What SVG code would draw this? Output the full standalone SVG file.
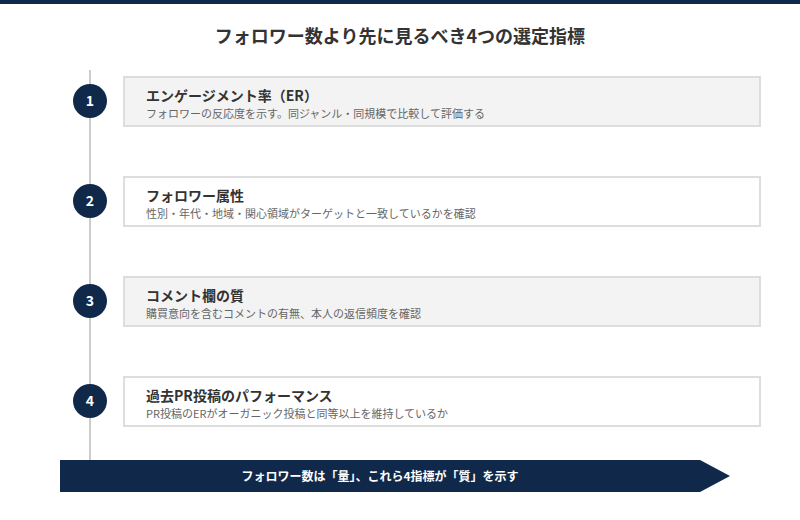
<svg xmlns="http://www.w3.org/2000/svg" width="800" height="520" viewBox="0 0 800 520">
<style>
text{font-family:"Noto Sans CJK JP","Noto Sans",sans-serif}
.ttl{font-size:18px;font-weight:700;fill:#333;text-anchor:middle}
.num{font-size:14px;font-weight:700;fill:#fff;text-anchor:middle}
.h{font-size:14px;font-weight:700;fill:#333}
.s{font-size:11px;fill:#666}
.circ{fill:#10294a}
.boxA{fill:#f3f3f3;stroke:#dddddd;stroke-width:2}
.boxB{fill:#ffffff;stroke:#dddddd;stroke-width:2}
.foot{font-size:12px;font-weight:700;fill:#fff;text-anchor:middle}
</style>
<rect x="0" y="0" width="800" height="520" fill="#fff"/>
<rect x="0" y="0" width="800" height="4" fill="#10294a"/>
<text class="ttl" x="400" y="43">フォロワー数より先に見るべき4つの選定指標</text>
<g id="connectors">
<line x1="90" y1="70" x2="90" y2="460" stroke="#cccccc" stroke-width="2"/>
</g>
<g id="n1">
<rect class="boxA" x="124" y="77" width="636" height="49"/>
<circle class="circ" cx="90" cy="101" r="17"/>
<text class="num" x="90" y="106">1</text>
<text class="h" x="146" y="101">エンゲージメント率（ER）</text>
<text class="s" x="146" y="118">フォロワーの反応度を示す。同ジャンル・同規模で比較して評価する</text>
</g>
<g id="n2">
<rect class="boxB" x="124" y="177" width="636" height="49"/>
<circle class="circ" cx="90" cy="201" r="17"/>
<text class="num" x="90" y="206">2</text>
<text class="h" x="146" y="201">フォロワー属性</text>
<text class="s" x="146" y="218">性別・年代・地域・関心領域がターゲットと一致しているかを確認</text>
</g>
<g id="n3">
<rect class="boxA" x="124" y="277" width="636" height="49"/>
<circle class="circ" cx="90" cy="301" r="17"/>
<text class="num" x="90" y="306">3</text>
<text class="h" x="146" y="301">コメント欄の質</text>
<text class="s" x="146" y="318">購買意向を含むコメントの有無、本人の返信頻度を確認</text>
</g>
<g id="n4">
<rect class="boxB" x="124" y="377" width="636" height="49"/>
<circle class="circ" cx="90" cy="401" r="17"/>
<text class="num" x="90" y="406">4</text>
<text class="h" x="146" y="401">過去PR投稿のパフォーマンス</text>
<text class="s" x="146" y="418">PR投稿のERがオーガニック投稿と同等以上を維持しているか</text>
</g>
<g id="footer">
<polygon points="60,460 700,460 730,476 700,492 60,492" fill="#10294a"/>
<text class="foot" x="380" y="481">フォロワー数は「量」、これら4指標が「質」を示す</text>
</g>
</svg>
